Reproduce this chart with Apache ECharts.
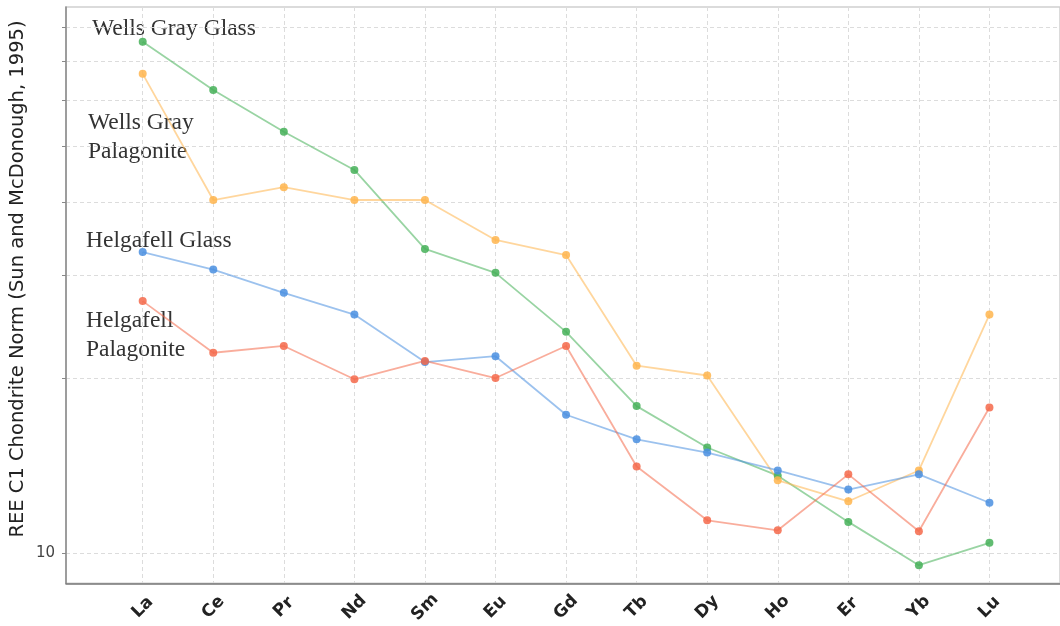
<!DOCTYPE html>
<html><head><meta charset="utf-8">
<script src="https://cdn.jsdelivr.net/npm/echarts@6/dist/echarts.min.js"></script>
<style>html,body{margin:0;padding:0;background:#fff}#c{width:1060px;height:626px}</style>
</head><body><div id="c"></div>
<script>
const elements = ['La','Ce','Pr','Nd','Sm','Eu','Gd','Tb','Dy','Ho','Er','Yb','Lu'];
const wellsGrayGlass      = [75.5, 62.4, 52.9, 45.5, 33.3, 30.3, 24.0, 17.9, 15.2, 13.6, 11.33, 9.55, 10.43];
const wellsGrayPalagonite = [66.5, 40.4, 42.5, 40.4, 40.4, 34.5, 32.5, 21.0, 20.2, 13.35, 12.29, 13.88, 25.7];
const helgafellGlass      = [32.9, 30.7, 28.0, 25.7, 21.3, 21.8, 17.3, 15.7, 14.9, 13.88, 12.87, 13.67, 12.22];
const helgafellPalagonite = [27.1, 22.1, 22.7, 19.9, 21.4, 20.0, 22.7, 14.1, 11.4, 10.96, 13.67, 10.92, 17.8];
const seriesNames = ['Wells Gray Glass', 'Wells Gray Palagonite', 'Helgafell Glass', 'Helgafell Palagonite'];
const seriesColors = ['#45b058', '#ffb54d', '#4a8fe0', '#f4694a'];
const yTickValues = [10, 20, 30, 40, 50, 60, 70, 80];
const yLabelValues = [10];
const yTitle = 'REE C1 Chondrite Norm (Sun and McDonough, 1995)';
const annotations = [
  {text: 'Wells Gray Glass', x: 92, y: 29},
  {text: 'Wells Gray\nPalagonite', x: 88, y: 137},
  {text: 'Helgafell Glass', x: 86, y: 241},
  {text: 'Helgafell\nPalagonite', x: 86, y: 335}
];

const allValues = [wellsGrayGlass, wellsGrayPalagonite, helgafellGlass, helgafellPalagonite];
const xIdx = elements.map((_, i) => i);

const chart = echarts.init(document.getElementById('c'), null, {renderer: 'canvas'});
const option = {
  backgroundColor: '#fff',
  animation: false,
  grid: {left: 66, right: 0, top: 7, bottom: 40, show: true, borderColor: '#cfcfcf', borderWidth: 1.5},
  xAxis: {
    type: 'value', min: -1.087, max: 13,
    axisLine: {show: true, onZero: false, lineStyle: {color: '#777', width: 1.5}},
    axisTick: {show: false, customValues: xIdx},
    axisLabel: {
      customValues: xIdx, rotate: 45, align: 'center', verticalAlign: 'middle', margin: 24,
      fontFamily: 'DejaVu Sans', fontWeight: 'bold', fontSize: 17, color: '#222',
      formatter: v => elements[Math.round(v)]
    },
    splitLine: {show: true, lineStyle: {color: '#dcdcdc', type: [4, 3], width: 1}}
  },
  yAxis: {
    type: 'log', min: 8.89, max: 86.6, logBase: 10,
    axisLine: {show: true, onZero: false, lineStyle: {color: '#888', width: 1.5}},
    axisTick: {show: true, customValues: yTickValues, length: 4, lineStyle: {color: '#888'}},
    axisLabel: {customValues: yLabelValues, fontFamily: 'DejaVu Sans', fontSize: 15, color: '#444', margin: 11},
    splitLine: {show: true, lineStyle: {color: '#dcdcdc', type: [4, 3], width: 1}}
  },
  graphic: [
    {type: 'text', x: 18, y: 279, rotation: Math.PI / 2,
     style: {text: yTitle, fontFamily: 'DejaVu Sans', fontSize: 19.5, fill: '#222', align: 'center', verticalAlign: 'middle'}}
  ].concat(annotations.map(a => ({
    type: 'text', x: a.x, y: a.y,
    style: {text: a.text, fontFamily: 'Liberation Serif', fontSize: 23.5, lineHeight: 29, fill: '#333', align: 'left', verticalAlign: 'middle'}
  }))),
  series: allValues.map((vals, s) => ({
    name: seriesNames[s], type: 'line',
    data: vals.map((v, i) => [xIdx[i], v]),
    symbol: 'circle', symbolSize: 8,
    itemStyle: {color: seriesColors[s], opacity: 0.85},
    lineStyle: {color: seriesColors[s], width: 1.8, opacity: 0.55},
    z: 3
  }))
};
chart.setOption(option);
</script>
</body></html>
